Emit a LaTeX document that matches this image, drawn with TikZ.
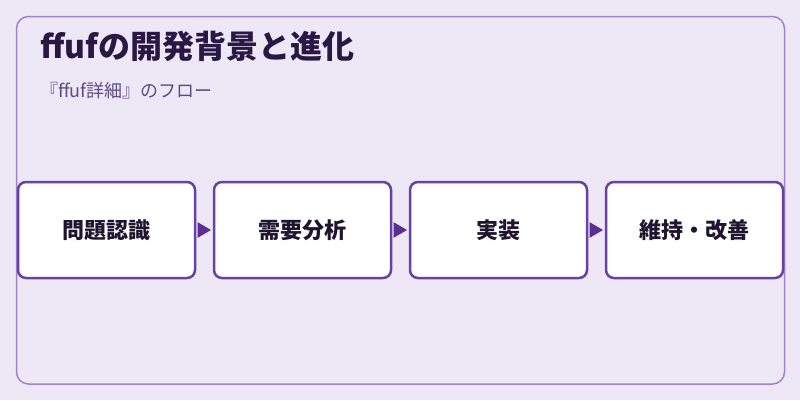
\documentclass[tikz,border=0pt]{standalone}
\usepackage{fontspec}
\setmainfont{Noto Sans CJK JP}
\usetikzlibrary{arrows.meta, positioning}

\definecolor{bgpurple}{HTML}{EEE7F6}
\definecolor{framepurple}{HTML}{A082D0}
\definecolor{boxpurple}{HTML}{6B40A4}
\definecolor{tippurple}{HTML}{5B2E8F}
\definecolor{titleink}{HTML}{2A1844}
\definecolor{subink}{HTML}{5E4B82}
\definecolor{boxink}{HTML}{1F1530}

\begin{document}
\begin{tikzpicture} [
						x=1pt, y=-1pt,
						node distance=19pt,
						stage/.style={draw=boxpurple, line width=2.5pt, fill=white,
							rounded corners=8pt, minimum width=177pt, minimum height=96pt,
							outer sep=0pt, inner sep=0pt, text=boxink,
							font=\fontsize{22pt}{26pt}\selectfont\bfseries},
						flow/.style={-{Triangle[length=13.5pt,width=15.5pt]}, tippurple, line width=1pt,
							shorten <=2.5pt, shorten >=3pt}
					]

\fill[bgpurple] (0,0) rectangle (800,400);
\useasboundingbox (0,0) rectangle (800,400);
\draw[framepurple, line width=1.5pt, rounded corners=12pt] (16.5,16.5) rectangle (784.5,384);

\node (title) [anchor=base west, inner sep=0pt, text=titleink,
	font=\fontsize{32pt}{38pt}\selectfont\bfseries] at (40,58) {ffufの開発背景と進化};
\node (subtitle) [anchor=base west, inner sep=0pt, text=subink,
	font=\fontsize{18pt}{22pt}\selectfont] at (40,97) {『ffuf詳細』のフロー};

\node (problem) [stage] at (106.5,230) {問題認識};
\node (demand) [stage, right=of problem] {需要分析};
\node (implement) [stage, right=of demand] {実装};
\node (maintain) [stage, right=of implement] {維持・改善};

\path[flow]
	(problem) edge (demand)
	(demand) edge (implement)
	(implement) edge (maintain);

\end{tikzpicture}
\end{document}
